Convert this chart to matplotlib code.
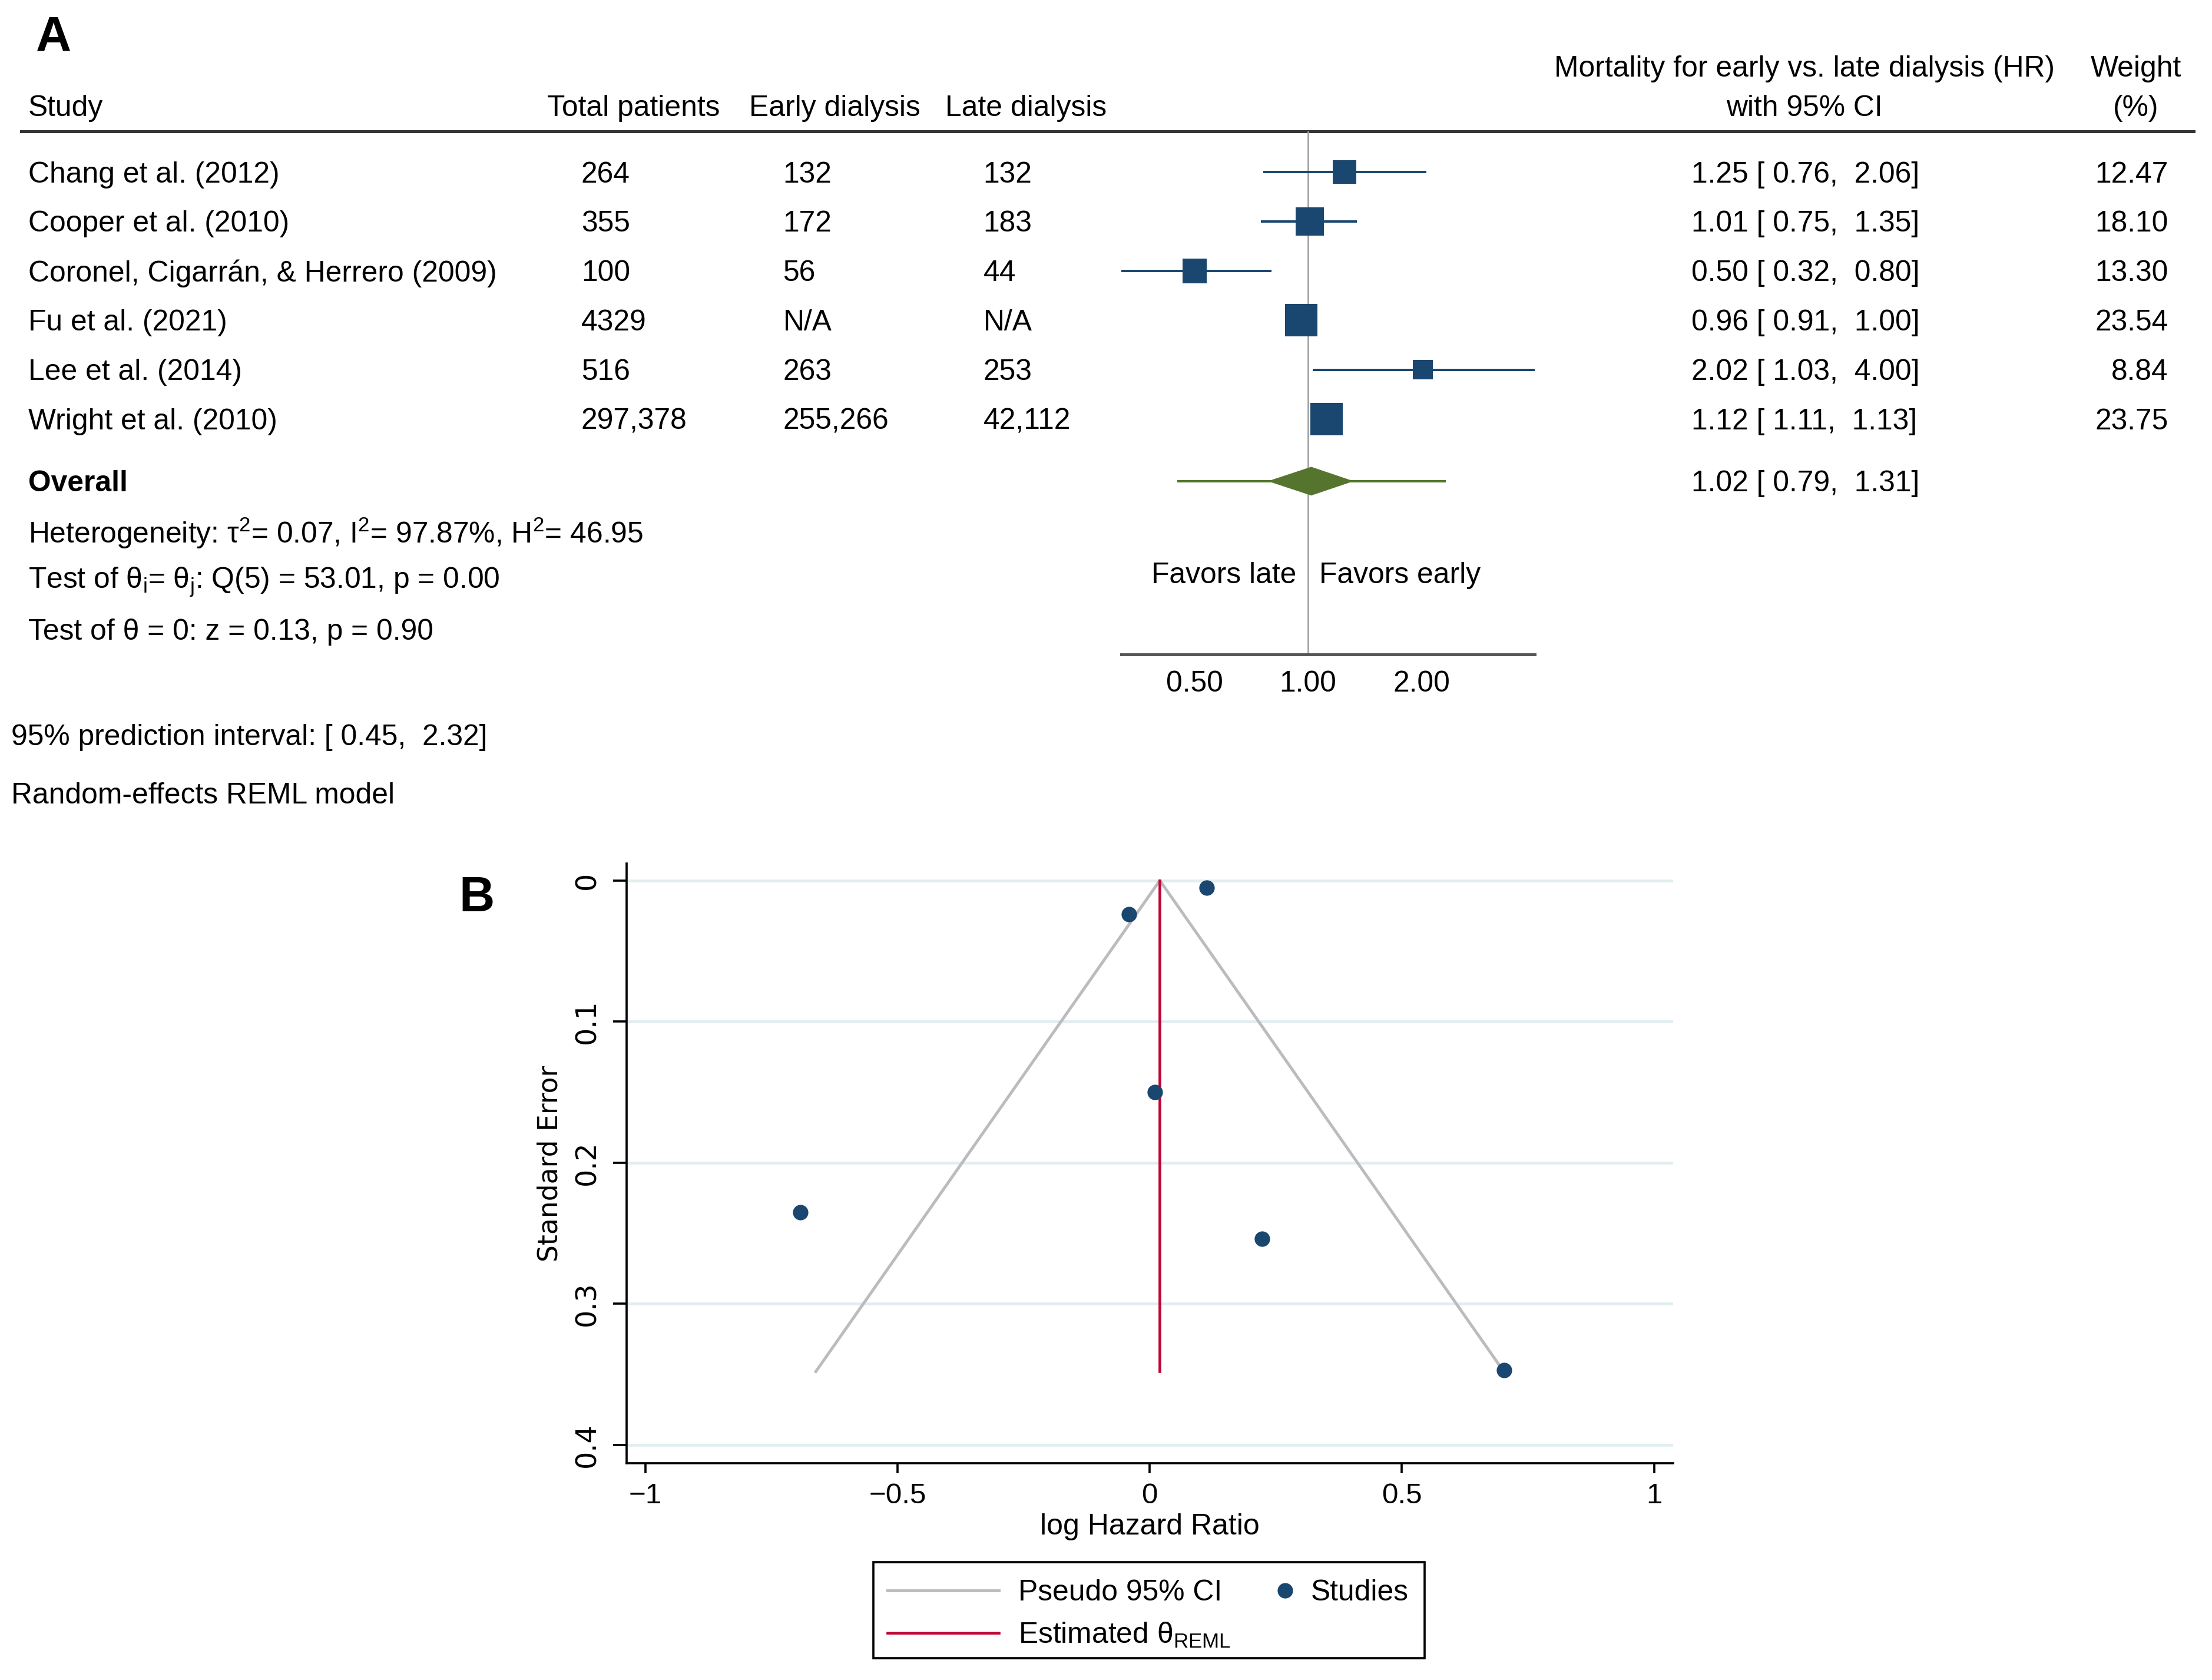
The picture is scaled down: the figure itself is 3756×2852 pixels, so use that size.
import numpy as np
import matplotlib
matplotlib.use('Agg')
import matplotlib.pyplot as plt
from matplotlib.patches import Polygon, Rectangle
from matplotlib.ticker import NullLocator

plt.rcParams['font.family'] = ['Liberation Sans', 'DejaVu Sans']
plt.rcParams['mathtext.fontset'] = 'custom'
plt.rcParams['mathtext.rm'] = 'Liberation Sans'
plt.rcParams['mathtext.it'] = 'Liberation Sans:italic'
plt.rcParams['mathtext.bf'] = 'Liberation Sans:bold'

# ---- data: panel A (forest plot) ----
studies = ['Chang et al. (2012)', 'Cooper et al. (2010)',
           'Coronel, Cigarrán, & Herrero (2009)', 'Fu et al. (2021)',
           'Lee et al. (2014)', 'Wright et al. (2010)']
total_patients = ['264', '355', '100', '4329', '516', '297,378']
early_dialysis = ['132', '172', '56', 'N/A', '263', '255,266']
late_dialysis = ['132', '183', '44', 'N/A', '253', '42,112']
hr = [1.25, 1.01, 0.50, 0.96, 2.02, 1.12]
ci_low = [0.76, 0.75, 0.32, 0.91, 1.03, 1.11]
ci_high = [2.06, 1.35, 0.80, 1.00, 4.00, 1.13]
weight = [12.47, 18.10, 13.30, 23.54, 8.84, 23.75]
overall_hr, overall_low, overall_high = 1.02, 0.79, 1.31
pred_low, pred_high = 0.45, 2.32
forest_ticks = [0.5, 1.0, 2.0]
forest_ticklabels = ['0.50', '1.00', '2.00']

# ---- data: panel B (funnel plot) ----
log_hr = [0.223, 0.010, -0.693, -0.041, 0.703, 0.113]
std_err = [0.254, 0.150, 0.235, 0.024, 0.347, 0.005]
theta_reml = 0.02
reml_se = [0.0, 0.348]
pseudo_x = [-0.662, 0.02, 0.702]
pseudo_se = [0.348, 0.0, 0.348]
funnel_xticks = [-1, -0.5, 0, 0.5, 1]
funnel_xticklabels = ['\u22121', '\u22120.5', '0', '0.5', '1']
funnel_yticks = [0, 0.1, 0.2, 0.3, 0.4]
funnel_yticklabels = ['0', '0.1', '0.2', '0.3', '0.4']

NAVY = '#1a476f'
GREEN = '#55752f'
RED = '#c10534'
GRAY = '#bcbcbc'
FS = 14.95

# layout reference frame (scaled picture units)
W, H = 1568.0, 1190.6
ROW0, ROW_H = 122, 35
TY = 1.8  # small downward nudge so text centres sit like the original


def frac(x0, y0, x1, y1):
    return [x0 / W, 1 - y1 / H, (x1 - x0) / W, (y1 - y0) / H]


def row_y(i):
    return ROW0 + ROW_H * i


fig = plt.figure(figsize=(3756 / 240, 2852 / 240), dpi=240)
bg = fig.add_axes([0, 0, 1, 1])
bg.set_xlim(0, W)
bg.set_ylim(H, 0)
bg.axis('off')


def txt(x, y, s, **kw):
    kw.setdefault('fontsize', FS)
    kw.setdefault('va', 'center')
    bg.text(x, y + TY, s, **kw)


# ---------------- Panel A ----------------
txt(38, 25, 'A', fontsize=25, fontweight='bold', ha='center')
txt(20, 75, 'Study')
txt(388, 75, 'Total patients')
txt(531, 75, 'Early dialysis')
txt(670, 75, 'Late dialysis')
txt(1279, 47, 'Mortality for early vs. late dialysis (HR)', ha='center')
txt(1279, 75, 'with 95% CI', ha='center')
txt(1514, 47, 'Weight', ha='center')
txt(1514, 75, '(%)', ha='center')
bg.plot([15, 1555], [93, 93], color='#333333', lw=1.5)

for i in range(len(studies)):
    y = row_y(i)
    txt(20, y, studies[i])
    txt(412, y, total_patients[i])
    txt(555, y, early_dialysis[i])
    txt(697, y, late_dialysis[i])
    txt(1199, y, f'{hr[i]:.2f} [ {ci_low[i]:.2f},  {ci_high[i]:.2f}]')
    txt(1537, y, f'{weight[i]:.2f}', ha='right')

ov_y = 341
ov_row = (ov_y - ROW0) / ROW_H
txt(20, ov_y, 'Overall', fontweight='bold')
txt(1199, ov_y, f'{overall_hr:.2f} [ {overall_low:.2f},  {overall_high:.2f}]')
txt(20, 376, r'Heterogeneity: τ$^2$= 0.07, I$^2$= 97.87%, H$^2$= 46.95')
txt(20, 411, r'Test of θ$_\mathrm{i}$= θ$_\mathrm{j}$: Q(5) = 53.01, p = 0.00')
txt(20, 446, 'Test of θ = 0: z = 0.13, p = 0.90')
txt(8, 521, '95% prediction interval: [ 0.45,  2.32]')
txt(8, 562, 'Random-effects REML model')
txt(919, 406, 'Favors late', ha='right')
txt(935, 406, 'Favors early', ha='left')

fa = fig.add_axes(frac(795, 93, 1088, 464))
fa.patch.set_alpha(0)
fa.set_xscale('log')
fa.set_xlim(0.32, 4.0)
fa.set_ylim((464 - ROW0) / ROW_H, (93 - ROW0) / ROW_H)
for side in ['top', 'left', 'right']:
    fa.spines[side].set_visible(False)
fa.spines['bottom'].set_color('#555555')
fa.spines['bottom'].set_linewidth(1.5)
fa.set_xticks(forest_ticks)
fa.set_xticklabels(forest_ticklabels)
fa.xaxis.set_minor_locator(NullLocator())
fa.tick_params(axis='x', length=0, labelsize=FS, pad=8)
fa.set_yticks([])

rows = np.arange(len(studies))
fa.axvline(1.0, color='#a0a0a0', lw=0.8, zorder=0)
fa.hlines(rows, ci_low, ci_high, color=NAVY, lw=1.2, zorder=2)
fa.scatter(hr, rows, s=11.6 * np.array(weight), marker='s', color=NAVY,
           linewidths=0, zorder=3)
fa.hlines(ov_row, pred_low, pred_high, color=GREEN, lw=1.2, zorder=2)
dh = 0.28
fa.add_patch(Polygon([(overall_low, ov_row), (overall_hr, ov_row - dh),
                      (overall_high, ov_row), (overall_hr, ov_row + dh)],
                     closed=True, facecolor=GREEN, edgecolor=GREEN, lw=0.5, zorder=3))

# ---------------- Panel B ----------------
txt(338, 635, 'B', fontsize=25, fontweight='bold', ha='center')

ax = fig.add_axes(frac(444, 612, 1186, 1037))
ax.set_xlim(-1.0377, 1.0377)
ax.set_ylim(0.413, -0.012)
ax.spines['top'].set_visible(False)
ax.spines['right'].set_visible(False)
for side in ['left', 'bottom']:
    ax.spines[side].set_linewidth(1.1)
ax.set_xticks(funnel_xticks)
ax.set_xticklabels(funnel_xticklabels)
ax.set_yticks(funnel_yticks)
ax.set_yticklabels(funnel_yticklabels, rotation=90, va='center',
                   family='DejaVu Sans')
ax.tick_params(axis='x', length=5, width=1.1, labelsize=14.8, pad=5)
ax.tick_params(axis='y', length=7, width=1.1, labelsize=14.3, pad=6)
ax.yaxis.grid(True, color='#e2edf0', lw=1.4)
ax.set_axisbelow(True)
ax.set_xlabel('log Hazard Ratio', fontsize=15, labelpad=2)
ax.set_ylabel('Standard Error', fontsize=13.7, family='DejaVu Sans', labelpad=5)

ax.plot(pseudo_x, pseudo_se, color=GRAY, lw=1.5, zorder=2)
ax.plot([theta_reml, theta_reml], reml_se, color=RED, lw=1.4, zorder=2)
ax.scatter(log_hr, std_err, s=62, color=NAVY, linewidths=0, zorder=3)

# legend box
bg.add_patch(Rectangle((619, 1107), 391, 68, fill=False, edgecolor='black', lw=1.1))
bg.plot([629, 708], [1127, 1127], color=GRAY, lw=1.5)
bg.plot([629, 708], [1157, 1157], color=RED, lw=1.4)
bg.scatter([911], [1127], s=62, color=NAVY, linewidths=0)
txt(722, 1127, 'Pseudo 95% CI')
txt(929, 1127, 'Studies')
txt(722, 1157, r'Estimated θ$_\mathrm{REML}$')

fig.savefig('out.png', dpi=240)
